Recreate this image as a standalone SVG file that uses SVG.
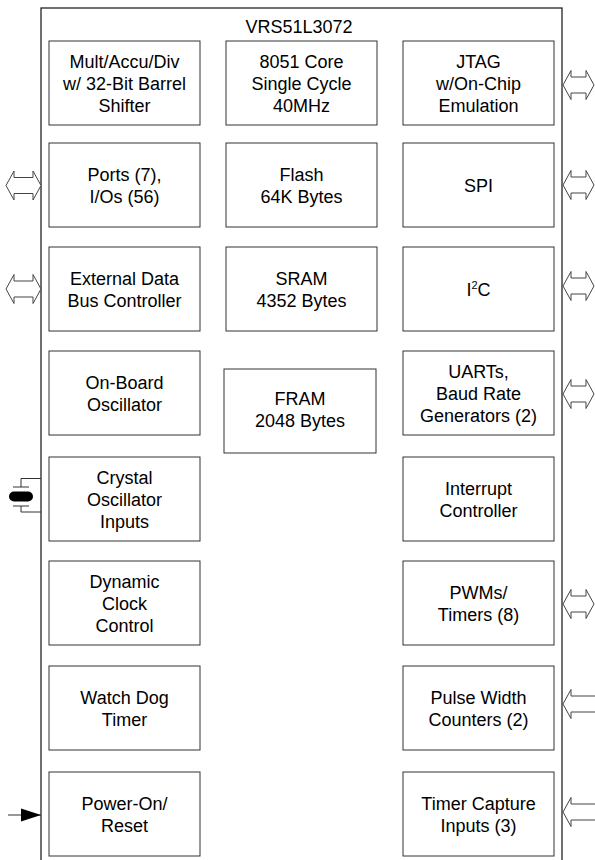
<svg xmlns="http://www.w3.org/2000/svg" xmlns:xlink="http://www.w3.org/1999/xlink" width="595" height="860" viewBox="0 0 595 860">
<style>
.chip{fill:none;stroke:#111;stroke-width:1.2}
.box{fill:#fff;stroke:#333;stroke-width:1}
.t{font-family:"Liberation Sans",Arial,sans-serif;font-size:18px;text-anchor:middle;fill:#000}
.arr{fill:#fff;stroke:#444;stroke-width:1}
.ln{fill:none;stroke:#333;stroke-width:1}
</style>
<defs>
<path id="dl" d="M6,0 L14,-14.5 L14,-8 L33,-8 L33,-14.5 L41,0 L33,14.5 L33,8 L14,8 L14,14.5 Z"/>
<path id="dr" d="M563,0 L571,-14.5 L571,-8 L586,-8 L586,-14.5 L594,0 L586,14.5 L586,8 L571,8 L571,14.5 Z"/>
<path id="inr" d="M598,-8 L571,-8 L571,-14.5 L563,0 L571,14.5 L571,8 L598,8"/>
<marker id="ah" markerUnits="userSpaceOnUse" markerWidth="20" markerHeight="14" refX="20" refY="7" orient="auto">
<path d="M0,0.5 L20,7 L0,13.5 Z" fill="#000"/>
</marker>
</defs>
<rect id="chip" class="chip" x="41" y="8" width="521" height="880"/>
<text class="t" x="299" y="33">VRS51L3072</text>

<g id="mult"><rect class="box" x="49" y="41" width="151" height="84"/>
<text class="t" x="124.5" y="67.5">Mult/Accu/Div</text><text class="t" x="124.5" y="89.5">w/ 32-Bit Barrel</text><text class="t" x="124.5" y="111.5">Shifter</text></g>
<g id="ports"><rect class="box" x="49" y="143" width="151" height="84"/>
<text class="t" x="124.5" y="180.5">Ports (7),</text><text class="t" x="124.5" y="202.5">I/Os (56)</text></g>
<g id="extbus"><rect class="box" x="49" y="247" width="151" height="84"/>
<text class="t" x="124.5" y="284.5">External Data</text><text class="t" x="124.5" y="306.5">Bus Controller</text></g>
<g id="onboard"><rect class="box" x="49" y="351" width="151" height="84"/>
<text class="t" x="124.5" y="388.5">On-Board</text><text class="t" x="124.5" y="410.5">Oscillator</text></g>
<g id="crystal"><rect class="box" x="49" y="457" width="151" height="84"/>
<text class="t" x="124.5" y="483.5">Crystal</text><text class="t" x="124.5" y="505.5">Oscillator</text><text class="t" x="124.5" y="527.5">Inputs</text></g>
<g id="dynclk"><rect class="box" x="49" y="561" width="151" height="84"/>
<text class="t" x="124.5" y="587.5">Dynamic</text><text class="t" x="124.5" y="609.5">Clock</text><text class="t" x="124.5" y="631.5">Control</text></g>
<g id="wdt"><rect class="box" x="49" y="666" width="151" height="84"/>
<text class="t" x="124.5" y="703.5">Watch Dog</text><text class="t" x="124.5" y="725.5">Timer</text></g>
<g id="por"><rect class="box" x="49" y="772" width="151" height="84"/>
<text class="t" x="124.5" y="809.5">Power-On/</text><text class="t" x="124.5" y="831.5">Reset</text></g>

<g id="core"><rect class="box" x="226" y="41" width="151" height="84"/>
<text class="t" x="301.5" y="67.5">8051 Core</text><text class="t" x="301.5" y="89.5">Single Cycle</text><text class="t" x="301.5" y="111.5">40MHz</text></g>
<g id="flash"><rect class="box" x="226" y="143" width="151" height="84"/>
<text class="t" x="301.5" y="180.5">Flash</text><text class="t" x="301.5" y="202.5">64K Bytes</text></g>
<g id="sram"><rect class="box" x="226" y="247" width="151" height="84"/>
<text class="t" x="301.5" y="284.5">SRAM</text><text class="t" x="301.5" y="306.5">4352 Bytes</text></g>
<g id="fram"><rect class="box" x="224" y="369" width="152" height="84"/>
<text class="t" x="300" y="404.5">FRAM</text><text class="t" x="300" y="426.5">2048 Bytes</text></g>

<g id="jtag"><rect class="box" x="403" y="41" width="151" height="84"/>
<text class="t" x="478.5" y="67.5">JTAG</text><text class="t" x="478.5" y="89.5">w/On-Chip</text><text class="t" x="478.5" y="111.5">Emulation</text></g>
<g id="spi"><rect class="box" x="403" y="143" width="151" height="84"/>
<text class="t" x="478.5" y="191.5">SPI</text></g>
<g id="i2c"><rect class="box" x="403" y="247" width="151" height="84"/>
<text class="t" x="478.5" y="295.5">I<tspan font-size="11" dy="-7">2</tspan><tspan dy="7">C</tspan></text></g>
<g id="uart"><rect class="box" x="403" y="351" width="151" height="84"/>
<text class="t" x="478.5" y="377.5">UARTs,</text><text class="t" x="478.5" y="399.5">Baud Rate</text><text class="t" x="478.5" y="421.5">Generators (2)</text></g>
<g id="intc"><rect class="box" x="403" y="457" width="151" height="84"/>
<text class="t" x="478.5" y="494.5">Interrupt</text><text class="t" x="478.5" y="516.5">Controller</text></g>
<g id="pwm"><rect class="box" x="403" y="561" width="151" height="84"/>
<text class="t" x="478.5" y="598.5">PWMs/</text><text class="t" x="478.5" y="620.5">Timers (8)</text></g>
<g id="pwc"><rect class="box" x="403" y="666" width="151" height="84"/>
<text class="t" x="478.5" y="703.5">Pulse Width</text><text class="t" x="478.5" y="725.5">Counters (2)</text></g>
<g id="tcap"><rect class="box" x="403" y="772" width="151" height="84"/>
<text class="t" x="478.5" y="809.5">Timer Capture</text><text class="t" x="478.5" y="831.5">Inputs (3)</text></g>

<g id="connectors">
<use xlink:href="#dl" href="#dl" class="arr" transform="translate(0,185.5)"/>
<use xlink:href="#dl" href="#dl" class="arr" transform="translate(0,289)"/>
<use xlink:href="#dr" href="#dr" class="arr" transform="translate(0,85)"/>
<use xlink:href="#dr" href="#dr" class="arr" transform="translate(0,185)"/>
<use xlink:href="#dr" href="#dr" class="arr" transform="translate(0,286)"/>
<use xlink:href="#dr" href="#dr" class="arr" transform="translate(0,394)"/>
<use xlink:href="#dr" href="#dr" class="arr" transform="translate(0,604)"/>
<use xlink:href="#inr" href="#inr" class="arr" transform="translate(0,704)"/>
<use xlink:href="#inr" href="#inr" class="arr" transform="translate(0,812)"/>
<path class="ln" d="M8,815 H41" stroke="#000" marker-end="url(#ah)"/>
<g id="xtal">
<path class="ln" d="M41,478.5 H21 V487 M13,487 H29 M13,506 H29 M21,506 V512 H41"/>
<rect x="9" y="491.5" width="24" height="10" rx="5" fill="#000"/>
</g>
</g>
</svg>
